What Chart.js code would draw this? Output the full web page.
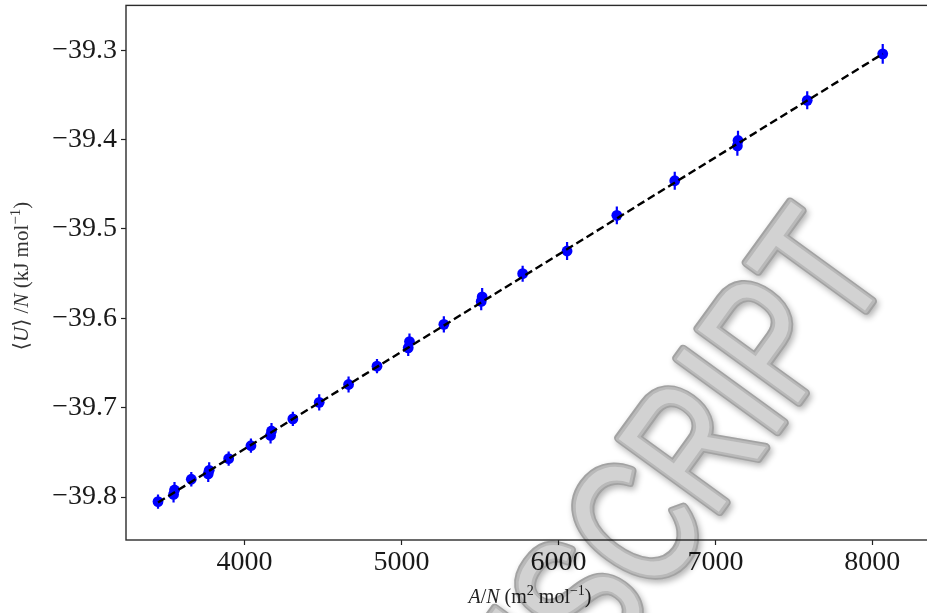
<!DOCTYPE html>
<html>
<head>
<meta charset="utf-8">
<script src="https://cdn.jsdelivr.net/npm/chart.js@4"></script>
<style>
    html, body { margin: 0; padding: 0; background: #fff; overflow: hidden; }
    #wrap { width: 936px; height: 613px; position: relative; }
</style>
</head>
<body>
<div id="wrap"><canvas id="energyChart"></canvas></div>
<script>
// Area per molecule (m^2 mol^-1) and mean energy per molecule (kJ mol^-1)
const areaPerMolecule = [3449, 3548, 3554, 3661, 3769, 3775, 3899, 4041, 4166, 4172, 4308, 4476, 4663, 4844,
    5043, 5051, 5270, 5508, 5514, 5772, 6055, 6372, 6741, 7140, 7144, 7585, 8066];
const energyPerMolecule = [-39.805, -39.797, -39.792, -39.780, -39.774, -39.770, -39.757, -39.7425, -39.731, -39.726,
    -39.7125, -39.694, -39.674, -39.6535, -39.633, -39.626, -39.6067, -39.581, -39.576, -39.550, -39.5246,
    -39.4847, -39.446, -39.407, -39.401, -39.356, -39.304];
const energyError = [0.008, 0.009, 0.009, 0.008, 0.009, 0.009, 0.008, 0.008, 0.009, 0.009, 0.008, 0.009, 0.009,
    0.008, 0.009, 0.009, 0.009, 0.010, 0.010, 0.009, 0.010, 0.010, 0.010, 0.011, 0.011, 0.010, 0.011];

// Linear fit end points
const fitArea = [3449, 8066];
const fitEnergy = [-39.806, -39.304];

// Axis ranges and ticks
const xRange = [3245, 8371];
const yRange = [-39.848, -39.2498];
const xTicks = [4000, 5000, 6000, 7000, 8000];
const yTicks = [-39.8, -39.7, -39.6, -39.5, -39.4, -39.3];

const serif = '"Liberation Serif", "DejaVu Serif", serif';

// Draws a line of text made of plain / italic / superscript pieces, centred on (0, 0)
function drawRichText(ctx, parts, size) {
    const fontFor = p => (p.i ? 'italic ' : '') + (p.s ? Math.round(size * 0.7) : size) + 'px ' + serif;
    let total = 0;
    parts.forEach(p => { ctx.font = fontFor(p); total += ctx.measureText(p.t).width; });
    let x = -total / 2;
    ctx.textAlign = 'left';
    ctx.textBaseline = 'alphabetic';
    parts.forEach(p => {
        ctx.font = fontFor(p);
        ctx.fillText(p.t, x, p.s ? -size * 0.4 : 0);
        x += ctx.measureText(p.t).width;
    });
}

// Keep the plot box where the fixed axis sizes put it
function noEdgePadding(s) {
    s.paddingTop = 0;
    s.paddingBottom = 0;
    s.paddingLeft = 0;
    s.paddingRight = 0;
}

// Watermark painted on its own layer, shaded like a tube
function watermarkLayer(width, height) {
    const layer = document.createElement('canvas');
    layer.width = width;
    layer.height = height;
    const c = layer.getContext('2d');
    const mark = 'ACCEPTED MANUSCRIPT';
    c.fillStyle = '#fff';
    c.fillRect(0, 0, width, height);
    c.translate(893, 272);
    c.rotate(-54 * Math.PI / 180);
    c.scale(0.75, 1);
    c.font = '180px "Liberation Sans", Arial, sans-serif';
    c.textAlign = 'right';
    c.textBaseline = 'alphabetic';
    c.lineJoin = 'round';
    c.shadowColor = 'rgba(0,0,0,0.3)';
    c.shadowBlur = 6;
    c.shadowOffsetX = 2;
    c.shadowOffsetY = 3;
    c.strokeStyle = '#a2a2a2';
    c.lineWidth = 10;
    c.strokeText(mark, 0, 0);
    c.shadowColor = 'transparent';
    c.strokeStyle = '#b9b9b9';
    c.lineWidth = 6;
    c.strokeText(mark, 0, 0);
    c.fillStyle = '#d2d2d2';
    c.fillText(mark, 0, 0);
    return layer;
}

const chartExtras = {
    id: 'chartExtras',
    beforeDatasetsDraw(chart) {
        // vertical error bars
        const { ctx, chartArea, scales } = chart;
        ctx.save();
        ctx.beginPath();
        ctx.rect(chartArea.left, chartArea.top, chartArea.right - chartArea.left, chartArea.bottom - chartArea.top);
        ctx.clip();
        ctx.strokeStyle = '#0000ff';
        ctx.lineWidth = 2.2;
        areaPerMolecule.forEach((a, i) => {
            const x = scales.x.getPixelForValue(a);
            const y1 = scales.y.getPixelForValue(energyPerMolecule[i] - energyError[i]);
            const y2 = scales.y.getPixelForValue(energyPerMolecule[i] + energyError[i]);
            ctx.beginPath();
            ctx.moveTo(x, y1);
            ctx.lineTo(x, y2);
            ctx.stroke();
        });
        ctx.restore();
    },
    afterDraw(chart) {
        const { ctx, chartArea } = chart;

        // frame round the plot
        ctx.save();
        ctx.strokeStyle = '#2b2b2b';
        ctx.lineWidth = 1.4;
        ctx.strokeRect(chartArea.left, chartArea.top, chartArea.right - chartArea.left, chartArea.bottom - chartArea.top);
        ctx.restore();

        // axis titles
        ctx.save();
        ctx.fillStyle = '#222';
        ctx.translate(530, 603);
        drawRichText(ctx, [
            { t: 'A', i: true }, { t: '/' }, { t: 'N', i: true }, { t: ' (m' }, { t: '2', s: true },
            { t: ' mol' }, { t: '\u22121', s: true }, { t: ')' }
        ], 20);
        ctx.restore();

        ctx.save();
        ctx.fillStyle = '#333';
        ctx.translate(28, 276);
        ctx.rotate(-Math.PI / 2);
        drawRichText(ctx, [
            { t: '\u27E8' }, { t: 'U', i: true }, { t: '\u27E9 /' }, { t: 'N', i: true }, { t: ' (kJ mol' },
            { t: '\u22121', s: true }, { t: ')' }
        ], 21);
        ctx.restore();

        // multiply the watermark over everything so text under it stays readable
        ctx.save();
        ctx.setTransform(1, 0, 0, 1, 0, 0);
        ctx.globalCompositeOperation = 'multiply';
        ctx.drawImage(watermarkLayer(chart.width, chart.height), 0, 0);
        ctx.restore();
    }
};

const tickFont = { family: serif, size: 28 };

new Chart(document.getElementById('energyChart'), {
    type: 'scatter',
    data: {
        datasets: [
            {
                type: 'line',
                label: 'fit',
                data: fitArea.map((a, i) => ({ x: a, y: fitEnergy[i] })),
                borderColor: '#000',
                borderWidth: 2.4,
                borderDash: [8, 4],
                pointRadius: 0,
                fill: false
            },
            {
                label: 'simulation',
                data: areaPerMolecule.map((a, i) => ({ x: a, y: energyPerMolecule[i] })),
                backgroundColor: '#0000ff',
                borderColor: '#0000ff',
                borderWidth: 0,
                pointRadius: 5.4
            }
        ]
    },
    options: {
        responsive: true,
        maintainAspectRatio: false,
        animation: false,
        devicePixelRatio: 1,
        layout: { padding: { top: 4, left: 0, right: 0, bottom: 0 } },
        plugins: {
            legend: { display: false },
            tooltip: { enabled: false }
        },
        scales: {
            x: {
                type: 'linear',
                min: xRange[0],
                max: xRange[1],
                afterBuildTicks: s => { s.ticks = xTicks.map(v => ({ value: v })); },
                afterFit: s => { s.height = 73; noEdgePadding(s); },
                border: { display: false },
                grid: { drawOnChartArea: false, tickLength: 5, color: '#222', tickWidth: 1.2 },
                ticks: {
                    font: tickFont,
                    color: '#1a1a1a',
                    padding: 1,
                    maxRotation: 0,
                    callback: v => String(v)
                }
            },
            y: {
                type: 'linear',
                min: yRange[0],
                max: yRange[1],
                afterBuildTicks: s => { s.ticks = yTicks.map(v => ({ value: v })); },
                afterFit: s => { s.width = 126; noEdgePadding(s); },
                border: { display: false },
                grid: { drawOnChartArea: false, tickLength: 5, color: '#222', tickWidth: 1.2 },
                ticks: {
                    font: tickFont,
                    color: '#1a1a1a',
                    padding: 4,
                    callback: v => (v < 0 ? '\u2212' : '') + Math.abs(v).toFixed(1)
                }
            }
        }
    },
    plugins: [chartExtras]
});
</script>
</body>
</html>
